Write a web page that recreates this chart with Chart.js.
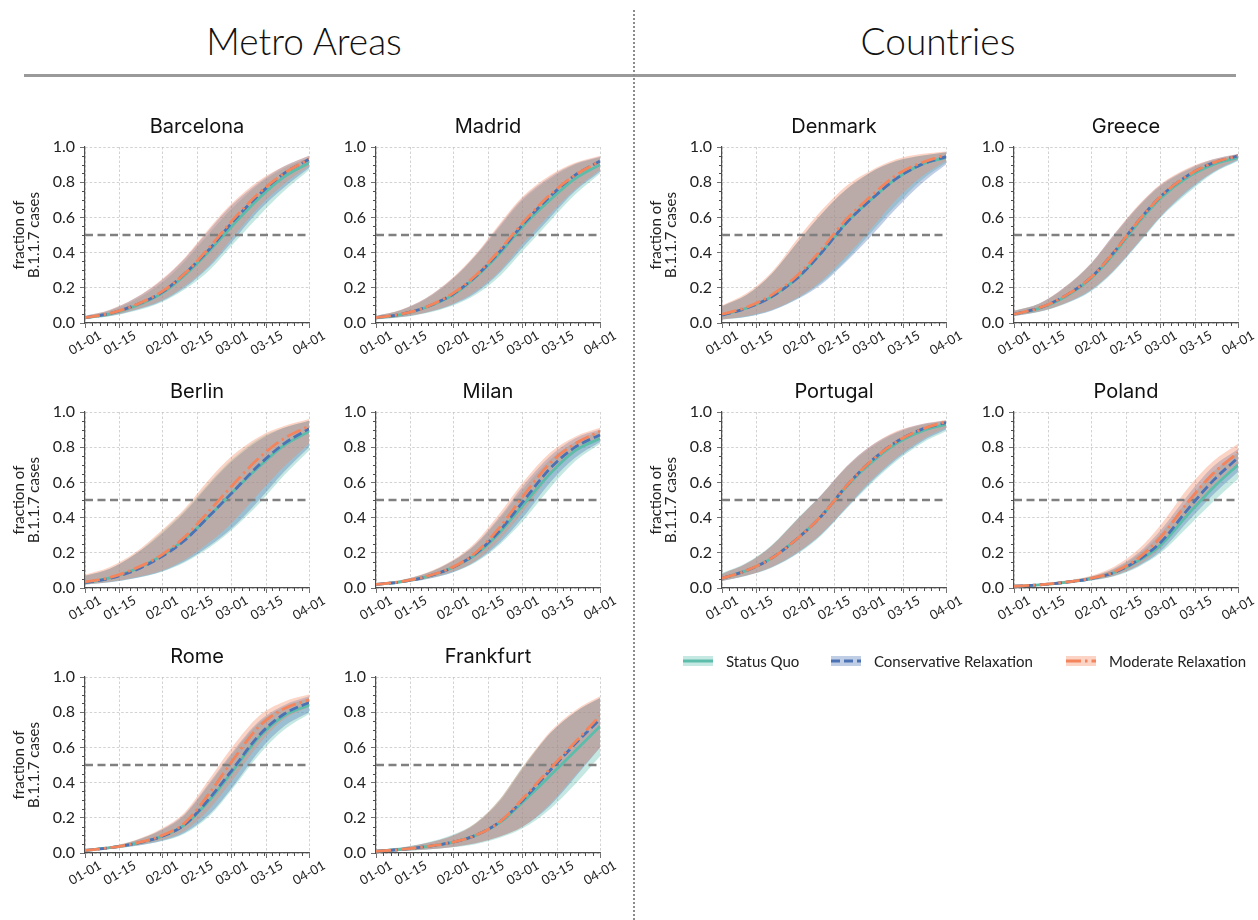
<!DOCTYPE html>
<html>
<head>
<meta charset="utf-8">
<title>B.1.1.7 share projections</title>
<script src="https://cdn.jsdelivr.net/npm/chart.js@4.4.1/dist/chart.umd.min.js"></script>
<style>
  body { margin: 0; background: #fff; font-family: Lato, 'Open Sans', sans-serif; }
  #page { position: relative; width: 1258px; height: 920px; overflow: hidden; }
  .group-title { position: absolute; top: 21px; font-size: 37px; line-height: 40px; font-weight: 300; color: #111; transform: translateX(-50%); white-space: nowrap; }
  .rule { position: absolute; left: 24px; top: 74px; width: 1212px; height: 3px; background: #9a9a9a; }
  .divider { position: absolute; left: 633px; top: 10px; height: 910px; border-left: 2px dotted #8c8c8c; }
  .panel { position: absolute; }
  .legend-item { position: absolute; top: 652px; height: 18px; display: flex; align-items: center; font-size: 15px; color: #222; white-space: nowrap; }
  .legend-item svg { margin-right: 13px; }
</style>
</head>
<body>
<div id="page">
  <div class="group-title" style="left:304px">Metro Areas</div>
  <div class="group-title" style="left:938px">Countries</div>
  <div class="rule"></div>
  <div class="divider"></div>
</div>
<script>
// x axis is days since 01-01
const days = [0, 10, 20, 31, 40, 50, 59, 70, 80, 90];
const tickDays = [0, 14, 31, 45, 59, 73, 90];
const tickLabels = ['01-01', '01-15', '02-01', '02-15', '03-01', '03-15', '04-01'];
const threshold = 0.5;
const scenarios = ['Status Quo', 'Conservative Relaxation', 'Moderate Relaxation'];

// rows: Status Quo, Conservative, Moderate
const barcelonaMid = [
  [0.03, 0.052, 0.095, 0.17, 0.27, 0.41, 0.55, 0.71, 0.83, 0.91],
  [0.03, 0.054, 0.10, 0.175, 0.28, 0.42, 0.57, 0.73, 0.85, 0.93],
  [0.03, 0.055, 0.10, 0.18, 0.28, 0.43, 0.58, 0.74, 0.85, 0.93]];
const barcelonaLow = [
  [0.022, 0.038, 0.068, 0.12, 0.19, 0.30, 0.44, 0.61, 0.75, 0.87],
  [0.024, 0.04, 0.072, 0.125, 0.20, 0.32, 0.46, 0.64, 0.77, 0.88],
  [0.025, 0.042, 0.075, 0.13, 0.21, 0.33, 0.48, 0.66, 0.79, 0.89]];
const barcelonaHigh = [
  [0.04, 0.07, 0.13, 0.23, 0.35, 0.51, 0.65, 0.79, 0.88, 0.94],
  [0.04, 0.074, 0.14, 0.245, 0.365, 0.53, 0.67, 0.80, 0.89, 0.95],
  [0.04, 0.075, 0.14, 0.25, 0.37, 0.54, 0.68, 0.81, 0.89, 0.95]];

const madridMid = [
  [0.03, 0.048, 0.088, 0.16, 0.26, 0.40, 0.55, 0.70, 0.82, 0.90],
  [0.03, 0.05, 0.09, 0.165, 0.265, 0.41, 0.56, 0.72, 0.84, 0.92],
  [0.03, 0.05, 0.09, 0.17, 0.27, 0.42, 0.57, 0.73, 0.84, 0.92]];
const madridLow = [
  [0.02, 0.032, 0.056, 0.10, 0.16, 0.27, 0.41, 0.58, 0.73, 0.85],
  [0.021, 0.034, 0.058, 0.105, 0.17, 0.29, 0.43, 0.60, 0.75, 0.86],
  [0.022, 0.035, 0.06, 0.11, 0.18, 0.30, 0.45, 0.62, 0.76, 0.87]];
const madridHigh = [
  [0.04, 0.072, 0.135, 0.25, 0.38, 0.55, 0.70, 0.82, 0.90, 0.94],
  [0.04, 0.074, 0.14, 0.255, 0.385, 0.56, 0.71, 0.83, 0.905, 0.945],
  [0.04, 0.075, 0.14, 0.26, 0.39, 0.57, 0.72, 0.84, 0.91, 0.95]];

const berlinMid = [
  [0.03, 0.057, 0.105, 0.185, 0.275, 0.41, 0.54, 0.69, 0.81, 0.89],
  [0.03, 0.055, 0.10, 0.18, 0.27, 0.41, 0.54, 0.70, 0.82, 0.905],
  [0.035, 0.06, 0.11, 0.19, 0.29, 0.44, 0.58, 0.74, 0.85, 0.92]];
const berlinLow = [
  [0.02, 0.033, 0.055, 0.093, 0.145, 0.23, 0.33, 0.48, 0.64, 0.78],
  [0.02, 0.033, 0.055, 0.095, 0.15, 0.24, 0.34, 0.50, 0.66, 0.80],
  [0.02, 0.035, 0.06, 0.10, 0.16, 0.26, 0.37, 0.54, 0.69, 0.82]];
const berlinHigh = [
  [0.07, 0.11, 0.19, 0.32, 0.44, 0.60, 0.73, 0.85, 0.91, 0.95],
  [0.07, 0.11, 0.19, 0.31, 0.43, 0.59, 0.72, 0.84, 0.91, 0.95],
  [0.075, 0.12, 0.20, 0.33, 0.45, 0.62, 0.75, 0.86, 0.92, 0.96]];

const milanMid = [
  [0.02, 0.035, 0.063, 0.118, 0.19, 0.32, 0.47, 0.65, 0.78, 0.85],
  [0.02, 0.035, 0.063, 0.118, 0.195, 0.33, 0.49, 0.68, 0.80, 0.87],
  [0.02, 0.036, 0.065, 0.12, 0.20, 0.35, 0.52, 0.71, 0.82, 0.89]];
const milanLow = [
  [0.017, 0.029, 0.05, 0.09, 0.145, 0.25, 0.38, 0.57, 0.72, 0.82],
  [0.017, 0.029, 0.05, 0.09, 0.15, 0.26, 0.40, 0.60, 0.74, 0.83],
  [0.018, 0.03, 0.052, 0.095, 0.155, 0.28, 0.43, 0.64, 0.77, 0.86]];
const milanHigh = [
  [0.025, 0.044, 0.082, 0.155, 0.245, 0.40, 0.56, 0.73, 0.83, 0.89],
  [0.025, 0.044, 0.082, 0.155, 0.25, 0.41, 0.58, 0.75, 0.85, 0.90],
  [0.025, 0.045, 0.085, 0.16, 0.26, 0.43, 0.60, 0.77, 0.86, 0.91]];

const romeMid = [
  [0.015, 0.03, 0.053, 0.095, 0.16, 0.30, 0.46, 0.66, 0.78, 0.84],
  [0.015, 0.03, 0.053, 0.095, 0.16, 0.31, 0.47, 0.67, 0.79, 0.855],
  [0.015, 0.03, 0.055, 0.10, 0.17, 0.34, 0.52, 0.72, 0.82, 0.87]];
const romeLow = [
  [0.012, 0.023, 0.04, 0.068, 0.11, 0.21, 0.36, 0.56, 0.70, 0.79],
  [0.012, 0.023, 0.04, 0.07, 0.115, 0.22, 0.37, 0.58, 0.72, 0.80],
  [0.012, 0.024, 0.043, 0.075, 0.125, 0.25, 0.41, 0.62, 0.76, 0.83]];
const romeHigh = [
  [0.018, 0.036, 0.07, 0.13, 0.215, 0.39, 0.56, 0.74, 0.83, 0.88],
  [0.018, 0.036, 0.07, 0.135, 0.22, 0.40, 0.57, 0.75, 0.84, 0.89],
  [0.018, 0.037, 0.072, 0.14, 0.23, 0.42, 0.60, 0.78, 0.86, 0.90]];

const frankfurtMid = [
  [0.01, 0.02, 0.036, 0.062, 0.10, 0.175, 0.29, 0.44, 0.58, 0.72],
  [0.01, 0.02, 0.036, 0.062, 0.10, 0.18, 0.30, 0.47, 0.62, 0.76],
  [0.01, 0.02, 0.036, 0.062, 0.10, 0.18, 0.31, 0.48, 0.63, 0.78]];
const frankfurtLow = [
  [0.006, 0.011, 0.019, 0.032, 0.05, 0.088, 0.14, 0.25, 0.39, 0.55],
  [0.006, 0.012, 0.02, 0.034, 0.055, 0.095, 0.15, 0.27, 0.43, 0.60],
  [0.006, 0.012, 0.02, 0.034, 0.055, 0.095, 0.15, 0.28, 0.44, 0.60]];
const frankfurtHigh = [
  [0.016, 0.032, 0.058, 0.105, 0.17, 0.31, 0.49, 0.68, 0.80, 0.88],
  [0.015, 0.03, 0.055, 0.10, 0.165, 0.30, 0.48, 0.68, 0.80, 0.88],
  [0.015, 0.03, 0.055, 0.10, 0.17, 0.31, 0.49, 0.69, 0.81, 0.89]];

const denmarkMid = [
  [0.045, 0.085, 0.15, 0.265, 0.40, 0.57, 0.69, 0.82, 0.90, 0.94],
  [0.045, 0.085, 0.15, 0.265, 0.40, 0.57, 0.69, 0.82, 0.90, 0.945],
  [0.05, 0.09, 0.16, 0.28, 0.42, 0.59, 0.71, 0.84, 0.91, 0.955]];
const denmarkLow = [
  [0.02, 0.036, 0.072, 0.145, 0.23, 0.36, 0.50, 0.67, 0.81, 0.91],
  [0.02, 0.035, 0.07, 0.14, 0.22, 0.35, 0.48, 0.65, 0.79, 0.90],
  [0.02, 0.04, 0.075, 0.15, 0.24, 0.38, 0.52, 0.70, 0.83, 0.92]];
const denmarkHigh = [
  [0.095, 0.16, 0.28, 0.47, 0.62, 0.76, 0.85, 0.92, 0.95, 0.97],
  [0.095, 0.16, 0.28, 0.47, 0.62, 0.76, 0.85, 0.92, 0.95, 0.97],
  [0.10, 0.17, 0.29, 0.49, 0.64, 0.78, 0.86, 0.93, 0.96, 0.975]];

const greeceMid = [
  [0.05, 0.083, 0.145, 0.255, 0.39, 0.57, 0.71, 0.83, 0.90, 0.94],
  [0.05, 0.085, 0.15, 0.26, 0.40, 0.58, 0.72, 0.84, 0.91, 0.95],
  [0.05, 0.085, 0.15, 0.26, 0.40, 0.58, 0.72, 0.84, 0.91, 0.95]];
const greeceLow = [
  [0.038, 0.062, 0.105, 0.18, 0.29, 0.45, 0.60, 0.74, 0.85, 0.92],
  [0.04, 0.064, 0.108, 0.185, 0.295, 0.455, 0.605, 0.75, 0.855, 0.925],
  [0.04, 0.065, 0.11, 0.19, 0.30, 0.46, 0.61, 0.76, 0.86, 0.93]];
const greeceHigh = [
  [0.07, 0.11, 0.195, 0.335, 0.49, 0.66, 0.78, 0.87, 0.925, 0.955],
  [0.07, 0.11, 0.20, 0.34, 0.50, 0.665, 0.785, 0.875, 0.93, 0.96],
  [0.07, 0.11, 0.20, 0.34, 0.50, 0.67, 0.79, 0.88, 0.93, 0.96]];

const portugalMid = [
  [0.055, 0.10, 0.17, 0.29, 0.41, 0.575, 0.70, 0.82, 0.89, 0.93],
  [0.055, 0.10, 0.17, 0.29, 0.41, 0.58, 0.71, 0.83, 0.90, 0.94],
  [0.055, 0.10, 0.17, 0.29, 0.41, 0.58, 0.71, 0.83, 0.90, 0.945]];
const portugalLow = [
  [0.04, 0.07, 0.115, 0.20, 0.30, 0.45, 0.58, 0.72, 0.82, 0.89],
  [0.04, 0.071, 0.118, 0.205, 0.305, 0.455, 0.59, 0.73, 0.83, 0.90],
  [0.04, 0.072, 0.12, 0.21, 0.31, 0.46, 0.60, 0.74, 0.84, 0.91]];
const portugalHigh = [
  [0.085, 0.145, 0.245, 0.405, 0.53, 0.685, 0.79, 0.88, 0.925, 0.95],
  [0.08, 0.14, 0.24, 0.40, 0.53, 0.69, 0.80, 0.885, 0.93, 0.952],
  [0.08, 0.14, 0.24, 0.40, 0.53, 0.69, 0.80, 0.89, 0.93, 0.955]];

const polandMid = [
  [0.01, 0.018, 0.031, 0.053, 0.087, 0.155, 0.245, 0.42, 0.57, 0.70],
  [0.01, 0.018, 0.031, 0.053, 0.087, 0.16, 0.26, 0.45, 0.61, 0.74],
  [0.01, 0.018, 0.032, 0.055, 0.09, 0.17, 0.29, 0.49, 0.65, 0.77]];
const polandLow = [
  [0.008, 0.014, 0.024, 0.042, 0.065, 0.12, 0.20, 0.35, 0.49, 0.62],
  [0.008, 0.014, 0.025, 0.043, 0.068, 0.125, 0.21, 0.38, 0.53, 0.66],
  [0.008, 0.015, 0.026, 0.045, 0.07, 0.13, 0.23, 0.42, 0.58, 0.71]];
const polandHigh = [
  [0.012, 0.021, 0.038, 0.065, 0.105, 0.19, 0.31, 0.50, 0.66, 0.77],
  [0.012, 0.021, 0.038, 0.066, 0.11, 0.20, 0.33, 0.53, 0.69, 0.79],
  [0.012, 0.022, 0.04, 0.07, 0.12, 0.22, 0.36, 0.57, 0.72, 0.82]];

const lineColors = ['#5cbdab', '#4a72b5', '#f4845c'];
const bandColors = ['rgba(92,189,171,0.35)', 'rgba(74,114,181,0.35)', 'rgba(244,132,92,0.35)'];
const lineDashes = [[], [9, 4], [15, 4, 2.5, 4]];
const axisColor = '#4d4d4d';
const fontFamily = "Lato, 'Open Sans', sans-serif";
const titleFamily = "Inter, 'Noto Sans', sans-serif";

// panel grid: plot-area left edges per column, top edges per row
const colLeft = [85, 376, 722, 1014];
const rowTop = [147, 412, 677];
const plotW = 224, plotH = 176;
const marginL = 85, marginT = 40, marginR = 20, marginB = 60;

const panels = [
  { name: 'Barcelona', col: 0, row: 0, mid: barcelonaMid, low: barcelonaLow, high: barcelonaHigh },
  { name: 'Madrid', col: 1, row: 0, mid: madridMid, low: madridLow, high: madridHigh },
  { name: 'Berlin', col: 0, row: 1, mid: berlinMid, low: berlinLow, high: berlinHigh },
  { name: 'Milan', col: 1, row: 1, mid: milanMid, low: milanLow, high: milanHigh },
  { name: 'Rome', col: 0, row: 2, mid: romeMid, low: romeLow, high: romeHigh },
  { name: 'Frankfurt', col: 1, row: 2, mid: frankfurtMid, low: frankfurtLow, high: frankfurtHigh },
  { name: 'Denmark', col: 2, row: 0, mid: denmarkMid, low: denmarkLow, high: denmarkHigh },
  { name: 'Greece', col: 3, row: 0, mid: greeceMid, low: greeceLow, high: greeceHigh },
  { name: 'Portugal', col: 2, row: 1, mid: portugalMid, low: portugalLow, high: portugalHigh },
  { name: 'Poland', col: 3, row: 1, mid: polandMid, low: polandLow, high: polandHigh }
];

const toPoints = vals => vals.map((v, i) => ({ x: days[i], y: v }));

// small unlabeled ticks between the major ones
const minorTicks = {
  id: 'minorTicks',
  afterDraw(chart) {
    const { ctx, chartArea, scales: { x, y } } = chart;
    ctx.save();
    ctx.strokeStyle = axisColor;
    ctx.lineWidth = 1;
    ctx.beginPath();
    for (let k = 1; k < 20; k++) {
      if (k % 4 === 0) continue;
      const py = Math.round(y.getPixelForValue(k * 0.05)) + 0.5;
      ctx.moveTo(chartArea.left, py);
      ctx.lineTo(chartArea.left - 3, py);
    }
    for (let d = 0; d <= 90; d += 3) {
      if (tickDays.includes(d)) continue;
      const px = Math.round(x.getPixelForValue(d)) + 0.5;
      ctx.moveTo(px, chartArea.bottom);
      ctx.lineTo(px, chartArea.bottom + 3);
    }
    ctx.stroke();
    ctx.restore();
  }
};

// rotated date labels centred under each tick
const dateLabels = {
  id: 'dateLabels',
  afterDraw(chart) {
    const { ctx, chartArea, scales: { x } } = chart;
    ctx.save();
    ctx.fillStyle = '#222';
    ctx.font = '13px ' + fontFamily;
    ctx.textAlign = 'center';
    ctx.textBaseline = 'middle';
    tickDays.forEach((d, i) => {
      ctx.save();
      ctx.translate(x.getPixelForValue(d), chartArea.bottom + 20);
      ctx.rotate(-Math.PI / 6);
      ctx.fillText(tickLabels[i], 0, 0);
      ctx.restore();
    });
    ctx.restore();
  }
};

const page = document.getElementById('page');

panels.forEach(p => {
  const canvas = document.createElement('canvas');
  canvas.className = 'panel';
  canvas.width = marginL + plotW + marginR;
  canvas.height = marginT + plotH + marginB;
  canvas.style.left = (colLeft[p.col] - marginL) + 'px';
  canvas.style.top = (rowTop[p.row] - marginT) + 'px';
  page.appendChild(canvas);

  const datasets = [];
  scenarios.forEach((s, i) => {
    datasets.push({
      label: s + ' upper', data: toPoints(p.high[i]), fill: '+1',
      backgroundColor: bandColors[i], borderWidth: 0, order: 30 - i
    });
    datasets.push({
      label: s + ' lower', data: toPoints(p.low[i]), fill: false,
      borderWidth: 0, order: 30 - i
    });
  });
  datasets.push({
    label: 'threshold', data: [{ x: 0, y: threshold }, { x: 90, y: threshold }],
    borderColor: '#808080', borderWidth: 2.6, borderDash: [8, 4.5], fill: false, order: 15
  });
  scenarios.forEach((s, i) => {
    datasets.push({
      label: s, data: toPoints(p.mid[i]), fill: false,
      borderColor: lineColors[i], borderWidth: 2.8, borderDash: lineDashes[i], order: 10 - i
    });
  });

  const showYTitle = p.col === 0 || p.col === 2;

  new Chart(canvas, {
    type: 'line',
    data: { datasets },
    options: {
      responsive: false,
      animation: false,
      events: [],
      layout: { padding: { right: marginR } },
      elements: {
        point: { radius: 0 },
        line: { cubicInterpolationMode: 'monotone' }
      },
      plugins: {
        legend: { display: false },
        tooltip: { enabled: false },
        title: {
          display: true, text: p.name, fullSize: false, color: '#111',
          font: { family: titleFamily, size: 20, weight: 400 },
          padding: { top: 8, bottom: 8 }
        }
      },
      scales: {
        x: {
          type: 'linear', min: 0, max: 90,
          afterBuildTicks: s => { s.ticks = tickDays.map(v => ({ value: v })); },
          afterFit: s => { s.height = marginB; },
          ticks: { display: false },
          grid: { color: '#c6c6c6', lineWidth: 0.8, tickColor: axisColor, tickLength: 5 },
          border: { color: axisColor, width: 1.2, dash: [2.5, 2] }
        },
        y: {
          min: 0, max: 1,
          afterFit: s => { s.width = marginL; },
          ticks: {
            stepSize: 0.2, padding: 5, color: '#222',
            font: { family: fontFamily, size: 16 },
            callback: v => v.toFixed(1)
          },
          grid: { color: '#c6c6c6', lineWidth: 0.8, tickColor: axisColor, tickLength: 5 },
          border: { color: axisColor, width: 1.2, dash: [2.5, 2] },
          title: {
            display: showYTitle, text: ['fraction of', 'B.1.1.7 cases'], color: '#222',
            font: { family: fontFamily, size: 15, lineHeight: 1.0 },
            padding: { top: 12, bottom: 0 }
          }
        }
      }
    },
    plugins: [minorTicks, dateLabels]
  });
});

// legend built from the same scenario styles
const legendLeft = [683, 831, 1066];
scenarios.forEach((s, i) => {
  const item = document.createElement('div');
  item.className = 'legend-item';
  item.style.left = legendLeft[i] + 'px';
  const dash = lineDashes[i].length ? ` stroke-dasharray="${lineDashes[i].join(' ')}"` : '';
  item.innerHTML =
    `<svg width="30" height="12"><rect x="0" y="1" width="30" height="10" fill="${bandColors[i]}"/>` +
    `<line x1="0" y1="6" x2="30" y2="6" stroke="${lineColors[i]}" stroke-width="3"${dash}/></svg>` +
    `<span>${s}</span>`;
  page.appendChild(item);
});
</script>
</body>
</html>
